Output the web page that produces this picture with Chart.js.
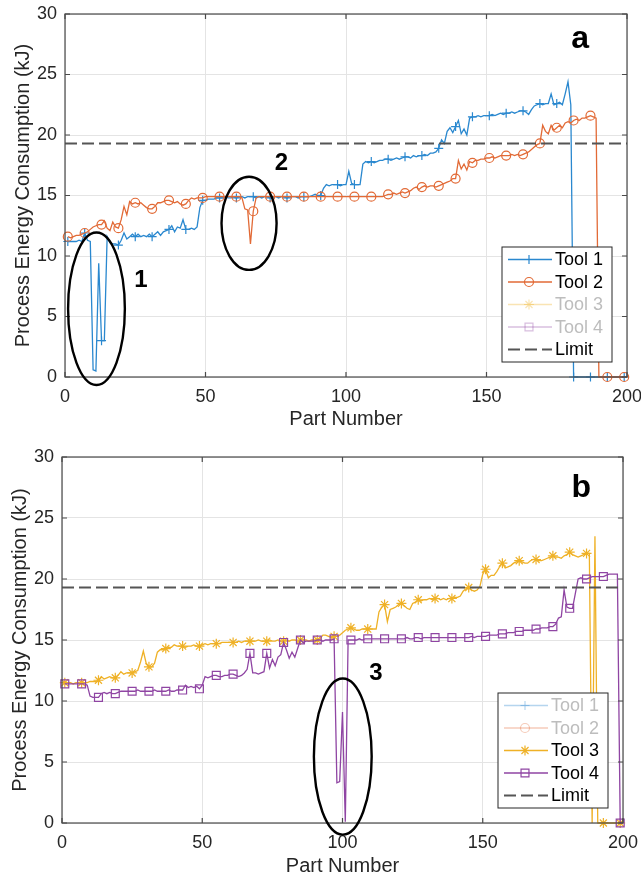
<!DOCTYPE html>
<html>
<head>
<meta charset="utf-8">
<script src="https://cdn.jsdelivr.net/npm/chart.js@4.4.0/dist/chart.umd.min.js"></script>
<style>
  html, body { margin: 0; padding: 0; background: #fff; }
  .panel { position: absolute; left: 0; width: 641px; }
  #panelA { top: 0; height: 440px; }
  #panelB { top: 440px; height: 439px; }
</style>
</head>
<body>
<div class="panel" id="panelA"><canvas id="chartA"></canvas></div>
<div class="panel" id="panelB"><canvas id="chartB"></canvas></div>
<script>
// part numbers 1..200 (x axis categories)
const partNumbers = Array.from({ length: 200 }, (_, i) => i + 1);
const limitValue = 19.3;
const xTicks = [0, 50, 100, 150, 200];
const yTicks = [0, 5, 10, 15, 20, 25, 30];

const tool1 = [
  11.2, 11.2, 11.2, 11.2, 11.3, 11.2, 11.9, 11.3, 11.2, 0.6,
  0.5, 9.4, 3.0, 3.0, 11.6, 11.1, 11.0, 11.0, 10.9, 11.3,
  11.9, 11.4, 11.6, 11.8, 11.6, 11.8, 11.6, 11.7, 11.6, 11.8,
  11.6, 11.8, 12.0, 11.7, 12.0, 12.1, 12.2, 12.5, 12.0, 12.4,
  12.3, 13.0, 12.2, 12.2, 12.3, 12.2, 12.4, 14.0, 14.6, 14.6,
  14.7, 14.7, 14.7, 14.8, 14.8, 14.8, 14.9, 14.8, 14.8, 14.9,
  14.8, 14.9, 14.9, 14.8, 14.9, 14.9, 14.9, 14.8, 14.9, 14.8,
  14.9, 14.9, 14.8, 14.9, 14.9, 14.8, 14.9, 14.9, 14.8, 14.9,
  14.9, 14.9, 14.8, 14.9, 14.9, 14.9, 14.9, 15.0, 15.1, 15.0,
  15.0, 15.6, 15.9, 15.8, 15.9, 15.9, 15.9, 15.8, 15.9, 15.9,
  17.0, 16.0, 15.9, 15.9, 15.9, 17.6, 17.8, 17.7, 17.8, 17.7,
  17.8, 17.9, 17.9, 18.0, 18.0, 17.9, 18.0, 18.1, 18.0, 18.1,
  18.2, 18.2, 18.1, 18.3, 18.2, 18.3, 18.3, 18.4, 18.3, 18.5,
  18.5, 18.6, 18.9, 19.6, 19.3, 20.3, 20.6, 20.2, 20.7, 21.2,
  20.1, 20.5, 20.0, 21.4, 21.5, 21.5, 21.6, 21.5, 21.6, 21.6,
  21.6, 21.7, 21.6, 21.7, 21.8, 21.7, 21.8, 21.8, 21.9, 21.8,
  21.9, 22.0, 22.0, 21.9, 21.7, 22.1, 22.4, 22.5, 22.6, 22.5,
  22.6, 22.6, 23.4, 22.5, 22.6, 22.7, 22.5, 23.4, 24.4, 22.5,
  0, 0, 0, 0, 0, 0, 0, 0, 0, 0,
  0, 0, 0, 0, 0, 0, 0, 0, 0, 0
];

const tool2 = [
  11.6, 11.5, 11.6, 11.7, 11.7, 11.8, 11.9, 12.0, 12.2, 12.4,
  12.5, 12.6, 12.6, 12.9, 12.3, 12.1, 12.8, 12.4, 12.3, 13.0,
  14.1, 13.4, 14.5, 14.3, 14.4, 14.3, 14.4, 14.2, 14.0, 13.9,
  13.9, 14.1, 14.4, 14.4, 14.5, 14.6, 14.6, 14.5, 14.4, 14.5,
  14.3, 14.2, 14.3, 14.6, 14.8, 14.7, 14.8, 14.8, 14.8, 14.9,
  14.9, 14.9, 14.9, 14.9, 14.9, 14.9, 14.9, 14.9, 14.9, 14.9,
  14.9, 14.9, 14.8, 13.9, 13.8, 11.0, 13.7, 14.8, 14.9, 14.9,
  14.9, 14.9, 14.9, 14.9, 14.9, 14.9, 14.9, 14.9, 14.9, 14.9,
  14.9, 14.9, 14.9, 14.9, 14.9, 14.9, 14.9, 14.9, 14.9, 14.9,
  14.9, 14.9, 14.9, 14.9, 14.9, 14.9, 14.9, 14.9, 14.9, 14.9,
  14.9, 14.9, 14.9, 14.9, 14.9, 14.9, 14.9, 14.9, 14.9, 14.9,
  14.9, 14.9, 14.9, 15.0, 15.1, 15.1, 15.2, 15.1, 15.2, 15.3,
  15.2, 15.3, 15.4, 15.6, 15.7, 15.5, 15.7, 15.8, 15.7, 15.8,
  15.8, 15.7, 15.8, 15.9, 16.0, 16.1, 16.2, 16.4, 16.4, 17.9,
  17.2, 17.6, 17.1, 17.8, 17.7, 17.9, 17.9, 18.0, 18.0, 18.1,
  18.1, 18.2, 18.1, 18.2, 18.3, 18.3, 18.3, 18.3, 18.4, 18.3,
  18.4, 18.3, 18.4, 18.5, 18.6, 18.8, 19.0, 19.2, 19.3, 20.8,
  20.3, 20.1, 20.8, 20.4, 20.6, 20.8, 20.6, 21.0, 21.1, 21.0,
  21.2, 21.3, 21.2, 21.4, 21.4, 21.5, 21.6, 21.5, 21.4, 0,
  0, 0, 0, 0, 0, 0, 0, 0, 0, 0
];

const tool3 = [
  11.5, 11.5, 11.5, 11.4, 11.5, 11.5, 11.5, 11.5, 11.5, 11.6,
  11.6, 11.6, 11.7, 12.0, 11.8, 11.9, 12.0, 11.9, 11.9, 12.1,
  12.4, 12.2, 12.3, 12.3, 12.3, 12.4, 12.5, 13.2, 14.1, 13.1,
  12.8, 12.8, 13.1, 14.0, 14.2, 14.2, 14.3, 14.4, 14.4, 14.6,
  14.5, 14.5, 14.5, 14.4, 14.5, 14.5, 14.6, 14.5, 14.5, 14.6,
  14.7, 14.6, 14.7, 14.7, 14.7, 14.7, 14.8, 14.8, 14.8, 14.8,
  14.8, 14.8, 14.9, 14.8, 14.9, 14.9, 14.9, 14.9, 14.9, 15.0,
  14.9, 14.9, 14.9, 15.0, 14.9, 14.9, 15.0, 14.9, 14.9, 15.0,
  14.9, 15.0, 15.0, 14.9, 15.0, 15.0, 15.0, 14.9, 15.0, 15.0,
  15.0, 15.1, 15.4, 15.4, 15.3, 15.2, 15.3, 15.3, 15.4, 15.6,
  15.8, 15.9, 16.0, 15.9, 15.8, 15.8, 15.9, 15.9, 15.9, 15.9,
  15.9, 15.9, 17.3, 17.7, 17.9, 16.5, 17.5, 17.6, 17.7, 17.9,
  18.0, 17.8, 17.6, 17.5, 18.0, 18.1, 18.3, 18.2, 18.3, 18.3,
  18.4, 18.3, 18.4, 18.4, 18.3, 18.4, 18.3, 18.4, 18.4, 18.5,
  18.5, 18.6, 19.0, 19.2, 19.3, 19.1, 19.0, 19.1, 19.4, 20.4,
  20.8, 20.1, 20.3, 20.3, 20.6, 21.0, 21.3, 20.9, 21.0, 21.1,
  21.3, 21.4, 21.5, 21.4, 21.3, 21.3, 21.5, 21.6, 21.6, 21.5,
  21.5, 21.6, 21.7, 21.8, 21.9, 21.8, 21.8, 21.7, 21.9, 22.0,
  22.2, 22.0, 21.9, 21.8, 21.9, 22.0, 22.1, 22.1, 0, 23.5,
  0, 0, 0, 0, 0, 0, 0, 0, 0, 0
];

const tool4 = [
  11.4, 11.4, 11.4, 11.4, 11.4, 11.4, 11.4, 11.4, 11.3, 10.4,
  10.3, 10.3, 10.3, 10.6, 10.7, 10.6, 10.7, 10.6, 10.6, 10.7,
  10.8, 10.8, 10.8, 10.8, 10.8, 10.8, 10.9, 10.8, 10.8, 10.8,
  10.8, 10.8, 10.9, 10.8, 10.8, 10.8, 10.8, 10.9, 10.8, 10.8,
  10.9, 10.9, 10.9, 11.3, 11.1, 11.2, 11.1, 11.2, 11.0, 11.3,
  12.0, 11.9, 12.0, 12.1, 12.1, 12.0, 12.0, 12.1, 12.1, 12.2,
  12.2, 12.1, 12.0, 12.1, 12.3, 12.6, 13.9, 12.3, 12.3, 12.2,
  12.3, 12.4, 13.9, 12.7, 13.4, 12.9, 13.6, 13.8, 14.8, 14.2,
  13.5, 14.0, 13.6, 14.3, 15.0, 14.8, 14.9, 14.9, 14.9, 14.9,
  15.0, 15.0, 14.9, 15.0, 15.0, 15.0, 15.1, 3.3, 3.4, 9.1,
  0.1, 15.0, 15.0, 15.0, 15.0, 15.1, 15.0, 15.1, 15.1, 15.1,
  15.1, 15.1, 15.1, 15.1, 15.1, 15.1, 15.1, 15.1, 15.1, 15.1,
  15.1, 15.1, 15.2, 15.1, 15.1, 15.2, 15.2, 15.1, 15.2, 15.2,
  15.2, 15.2, 15.2, 15.2, 15.2, 15.2, 15.2, 15.2, 15.2, 15.2,
  15.2, 15.2, 15.2, 15.2, 15.2, 15.3, 15.2, 15.3, 15.3, 15.3,
  15.3, 15.4, 15.4, 15.4, 15.4, 15.5, 15.5, 15.5, 15.6, 15.6,
  15.6, 15.7, 15.7, 15.7, 15.8, 15.8, 15.8, 15.8, 15.9, 15.9,
  16.0, 16.0, 16.0, 16.1, 16.1, 16.3, 16.8, 16.9, 19.1, 17.7,
  17.6, 17.6, 18.8, 20.0, 20.1, 20.0, 20.0, 20.1, 20.2, 20.2,
  20.2, 20.2, 20.2, 20.3, 20.4, 20.4, 20.4, 20.4, 0, 0
];

const toolLabels = ['Tool 1', 'Tool 2', 'Tool 3', 'Tool 4'];
const toolSeries = [tool1, tool2, tool3, tool4];
const toolColors = ['#2a88cf', '#e26a36', '#efb126', '#8f45a3'];
const toolMarkers = ['cross', 'circle', 'star', 'rect'];
const markerSizes = [4.5, 4.5, 5, 5.6];

const FONT = "'Liberation Sans', Arial, Helvetica, sans-serif";
Chart.defaults.font.family = FONT;
Chart.defaults.color = '#262626';

function drawMarker(ctx, style, x, y, r) {
  ctx.beginPath();
  if (style === 'circle') {
    ctx.arc(x, y, r, 0, Math.PI * 2);
  } else if (style === 'rect') {
    const s = r * Math.SQRT1_2;
    ctx.rect(x - s, y - s, 2 * s, 2 * s);
  } else {
    ctx.moveTo(x - r, y); ctx.lineTo(x + r, y);
    ctx.moveTo(x, y - r); ctx.lineTo(x, y + r);
    if (style === 'star') {
      const d = r * Math.SQRT1_2;
      ctx.moveTo(x - d, y - d); ctx.lineTo(x + d, y + d);
      ctx.moveTo(x - d, y + d); ctx.lineTo(x + d, y - d);
    }
  }
  ctx.stroke();
}

const panelDecor = {
  id: 'panelDecor',
  afterDraw(chart, args, opts) {
    const { ctx, chartArea: a, scales } = chart;
    const xs = scales.x, ys = scales.y;
    ctx.save();

    // axes box and inward ticks
    ctx.strokeStyle = '#4a4a4a';
    ctx.lineWidth = 1.2;
    ctx.strokeRect(a.left, a.top, a.right - a.left, a.bottom - a.top);
    ctx.beginPath();
    xTicks.forEach(v => {
      const px = xs.getPixelForValue(v);
      ctx.moveTo(px, a.bottom); ctx.lineTo(px, a.bottom - 5);
      ctx.moveTo(px, a.top); ctx.lineTo(px, a.top + 5);
    });
    yTicks.forEach(v => {
      const py = ys.getPixelForValue(v);
      ctx.moveTo(a.left, py); ctx.lineTo(a.left + 5, py);
      ctx.moveTo(a.right, py); ctx.lineTo(a.right - 5, py);
    });
    ctx.stroke();

    // annotation ellipses
    ctx.strokeStyle = '#000';
    ctx.lineWidth = 2.4;
    (opts.ellipses || []).forEach(e => {
      const cx = xs.getPixelForValue(e.x), cy = ys.getPixelForValue(e.y);
      const rx = Math.abs(xs.getPixelForValue(e.x + e.rx) - cx);
      const ry = Math.abs(ys.getPixelForValue(e.y + e.ry) - cy);
      ctx.beginPath();
      ctx.ellipse(cx, cy, rx, ry, 0, 0, Math.PI * 2);
      ctx.stroke();
    });

    // annotation labels
    ctx.fillStyle = '#000';
    ctx.textAlign = 'center';
    ctx.textBaseline = 'alphabetic';
    (opts.notes || []).forEach(n => {
      ctx.font = 'bold ' + n.size + 'px ' + FONT;
      ctx.fillText(n.text, xs.getPixelForValue(n.x), ys.getPixelForValue(n.y));
    });

    // legend (bottom-right, inside axes)
    const w = 110, h = 115, rowH = 22.5;
    const left = a.right - 15 - w, top = a.bottom - 15 - h;
    ctx.fillStyle = '#fff';
    ctx.fillRect(left, top, w, h);
    ctx.strokeStyle = '#262626';
    ctx.lineWidth = 1;
    ctx.strokeRect(left, top, w, h);
    ctx.font = '18px ' + FONT;
    ctx.textAlign = 'left';
    ctx.textBaseline = 'middle';
    chart.data.datasets.forEach((ds, i) => {
      const y = top + 12.5 + i * rowH;
      const faded = !!ds.hidden;
      ctx.globalAlpha = faded ? 0.35 : 1;
      ctx.strokeStyle = ds.borderColor;
      ctx.lineWidth = ds.borderWidth;
      ctx.setLineDash(ds.borderDash || []);
      ctx.beginPath();
      ctx.moveTo(left + 6, y); ctx.lineTo(left + 50, y);
      ctx.stroke();
      ctx.setLineDash([]);
      if (ds.markerStyle) {
        ctx.lineWidth = 1.2;
        drawMarker(ctx, ds.markerStyle, left + 27, y, ds.markerSize);
      }
      ctx.globalAlpha = 1;
      ctx.fillStyle = faded ? '#bdbdbd' : '#000';
      ctx.fillText(ds.label, left + 53, y + 1);
    });
    ctx.restore();
  }
};

function makeDatasets(shown) {
  const sets = toolSeries.map((vals, i) => ({
    label: toolLabels[i],
    data: vals.map((v, j) => ({ x: partNumbers[j], y: v })),
    borderColor: toolColors[i],
    borderWidth: 1.3,
    pointStyle: toolMarkers[i],
    markerStyle: toolMarkers[i],
    markerSize: markerSizes[i],
    pointRadius: c => (c.dataIndex % 6 === 0 ? markerSizes[i] : 0),
    pointHoverRadius: 0,
    pointBorderColor: toolColors[i],
    pointBackgroundColor: 'rgba(0,0,0,0)',
    pointBorderWidth: 1.2,
    hidden: !shown.includes(i),
    order: 4 - i,
    clip: false
  }));
  sets.push({
    label: 'Limit',
    data: [{ x: 0, y: limitValue }, { x: 200, y: limitValue }],
    borderColor: '#555555',
    borderWidth: 2,
    borderDash: [12, 5],
    pointRadius: 0,
    order: 0
  });
  return sets;
}

function makeChart(id, shown, geo, decor) {
  return new Chart(document.getElementById(id), {
    type: 'line',
    data: { datasets: makeDatasets(shown) },
    options: {
      responsive: true,
      maintainAspectRatio: false,
      animation: false,
      events: [],
      layout: { padding: { top: geo.top, right: geo.right, left: 0, bottom: 0 } },
      plugins: {
        legend: { display: false },
        tooltip: { enabled: false },
        panelDecor: decor
      },
      scales: {
        x: {
          type: 'linear',
          min: 0, max: 200,
          afterBuildTicks: s => { s.ticks = xTicks.map(v => ({ value: v })); },
          afterFit: s => { s.height = geo.xHeight; s.paddingLeft = 0; s.paddingRight = 0; },
          grid: { color: '#e4e4e4', drawTicks: false },
          border: { display: false },
          ticks: { font: { size: 18 }, padding: 9, color: '#262626' },
          title: { display: true, text: 'Part Number', font: { size: 20 }, color: '#262626',
                   padding: { top: 0, bottom: geo.xTitlePad } }
        },
        y: {
          min: 0, max: 30,
          afterBuildTicks: s => { s.ticks = yTicks.map(v => ({ value: v })); },
          afterFit: s => { s.width = geo.yWidth; s.paddingTop = 0; s.paddingBottom = 0; },
          grid: { color: '#e4e4e4', drawTicks: false },
          border: { display: false },
          ticks: { font: { size: 18 }, padding: 8, color: '#262626' },
          title: { display: true, text: 'Process Energy Consumption (kJ)', font: { size: 20 }, color: '#262626',
                   padding: { top: geo.yTitlePad, bottom: 0 } }
        }
      }
    },
    plugins: [panelDecor]
  });
}

makeChart('chartA', [0, 1],
  { top: 14, right: 14, xHeight: 63, yWidth: 65, xTitlePad: 9, yTitlePad: 11 },
  {
    ellipses: [{ x: 11.2, y: 5.64, rx: 10.1, ry: 6.3 }, { x: 65.5, y: 12.7, rx: 9.8, ry: 3.85 }],
    notes: [
      { text: '1', x: 27.0, y: 7.4, size: 24 },
      { text: '2', x: 77.0, y: 17.1, size: 24 },
      { text: 'a', x: 183.3, y: 27.15, size: 32 }
    ]
  });

makeChart('chartB', [2, 3],
  { top: 17, right: 18, xHeight: 56, yWidth: 62, xTitlePad: 1, yTitlePad: 8 },
  {
    ellipses: [{ x: 100.1, y: 5.45, rx: 10.3, ry: 6.4 }],
    notes: [
      { text: '3', x: 111.9, y: 11.73, size: 24 },
      { text: 'b', x: 185.1, y: 26.7, size: 32 }
    ]
  });
</script>
</body>
</html>
